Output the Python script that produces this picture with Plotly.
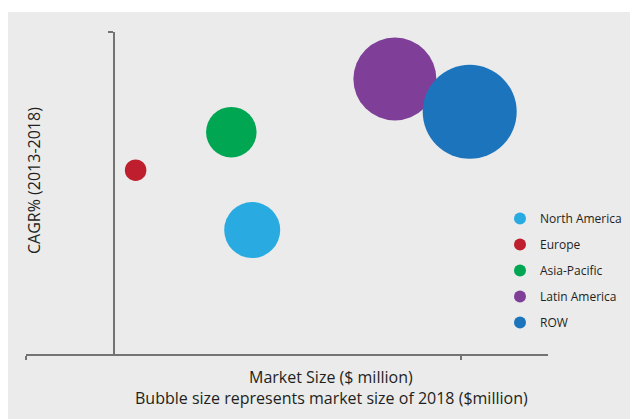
import plotly.graph_objects as go

regions = ["North America", "Europe", "Asia-Pacific", "Latin America", "ROW"]
market_size = [160, 26, 136, 324, 410]
cagr = [3.85, 5.71, 6.89, 8.54, 7.52]
size_2018 = [56, 21.5, 50.5, 83, 94]
colors = ["#29abe2", "#be1e2d", "#00a651", "#7f3f98", "#1c75bc"]

# page has an 8px body margin; work in screenshot pixels and convert
OFF = 8
W, H = 638 - OFF, 419 - OFF
L, T = 26 - OFF, 32 - OFF
R = W - (549 - OFF)
B = H - (354 - OFF)
pw, ph = W - L - R, H - T - B

def px_x(p):
    return (p - OFF - L) / pw

def px_y(p):
    return (H - B - (p - OFF)) / ph

fig = go.Figure()
for name, x, y, s, c in zip(regions, market_size, cagr, size_2018, colors):
    fig.add_trace(go.Scatter(
        x=[x], y=[y], mode="markers", name=name, legendgroup=name,
        marker=dict(size=s, sizemode="diameter", color=c, line=dict(width=0), opacity=1),
        hoverinfo="name",
    ))

axis_col = "#737373"
font_fam = "Open Sans, Lato, sans-serif"
txt_col = "#231f20"

fig.update_layout(
    width=W, height=H,
    margin=dict(l=L, r=R, t=T, b=B),
    paper_bgcolor="white",
    plot_bgcolor="rgba(0,0,0,0)",
    font=dict(family=font_fam, color=txt_col),
    xaxis=dict(range=[-100, 500], showgrid=False, zeroline=False, showline=True,
               linecolor=axis_col, linewidth=1.5, ticks="outside", tickvals=[-100, 400],
               ticklen=4, tickwidth=1.5, tickcolor=axis_col, showticklabels=False,
               fixedrange=True),
    yaxis=dict(range=[0, 10], showgrid=False, zeroline=False, showline=True,
               anchor="free", position=px_x(114),
               linecolor=axis_col, linewidth=1.5, ticks="outside", tickvals=[10],
               ticklen=5, tickwidth=1.5, tickcolor=axis_col, showticklabels=False,
               fixedrange=True),
    showlegend=True,
    legend=dict(x=px_x(500), y=px_y(204), xanchor="left", yanchor="top",
                bgcolor="rgba(0,0,0,0)", font=dict(size=12, family=font_fam, color=txt_col),
                itemsizing="constant", tracegroupgap=7, itemwidth=30),
    shapes=[dict(type="rect", xref="paper", yref="paper", layer="below",
                 x0=px_x(0), x1=px_x(650), y0=px_y(430), y1=px_y(12),
                 fillcolor="#ebebeb", line=dict(width=0))],
    annotations=[
        dict(text="Market Size ($ million)", xref="paper", yref="paper",
             x=px_x(332), y=px_y(377), showarrow=False, xanchor="center", yanchor="middle",
             font=dict(size=16)),
        dict(text="Bubble size represents market size of 2018 ($million)", xref="paper", yref="paper",
             x=px_x(332), y=px_y(398), showarrow=False, xanchor="center", yanchor="middle",
             font=dict(size=16)),
        dict(text="CAGR% (2013-2018)", xref="paper", yref="paper", textangle=-90,
             x=px_x(34), y=px_y(180), showarrow=False, xanchor="center", yanchor="middle",
             font=dict(size=16)),
    ],
)

fig.write_html("out.html")
